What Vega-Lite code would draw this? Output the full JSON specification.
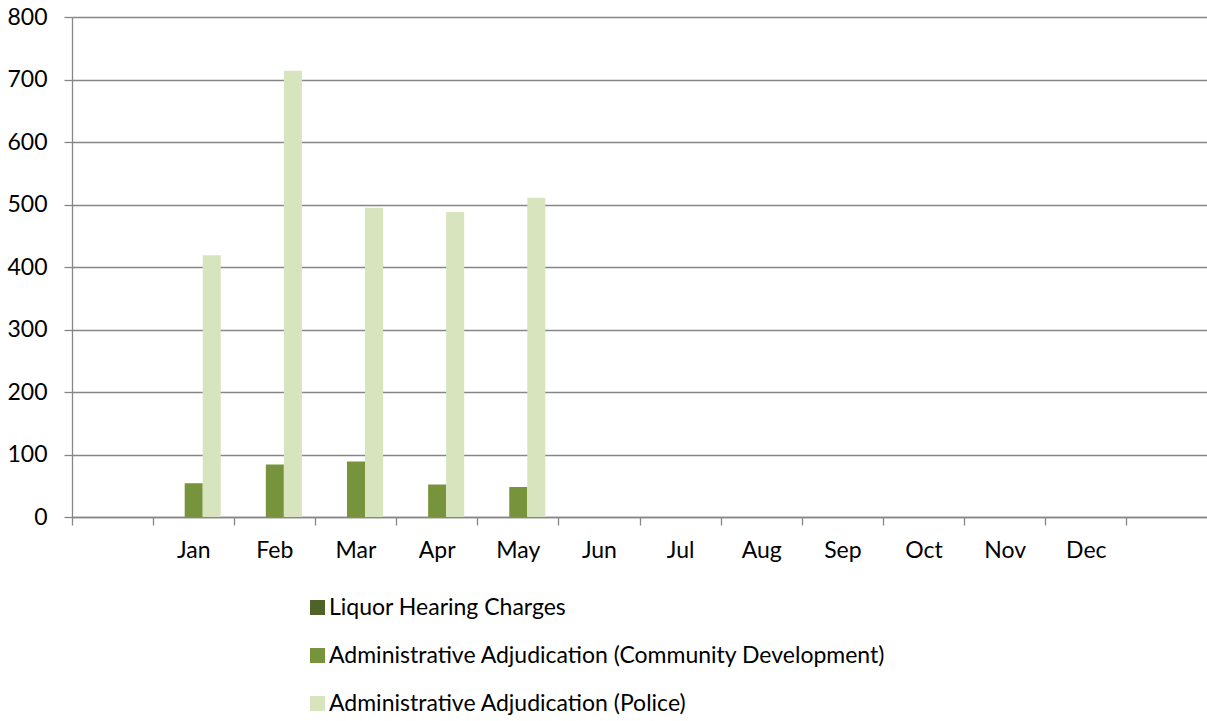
{
  "$schema": "https://vega.github.io/schema/vega-lite/v6.json",
  "width": 1136,
  "height": 500,
  "autosize": {"type": "none"},
  "padding": {"left": 72, "top": 17, "right": 0, "bottom": 204},
  "background": "white",
  "config": {"view": {"stroke": null}, "font": "Lato"},
  "data": {
    "values": [
      {"month": "Jan", "series": "Liquor Hearing Charges", "value": 0},
      {"month": "Jan", "series": "Administrative Adjudication (Community Development)", "value": 54},
      {"month": "Jan", "series": "Administrative Adjudication (Police)", "value": 419},
      {"month": "Feb", "series": "Liquor Hearing Charges", "value": 0},
      {"month": "Feb", "series": "Administrative Adjudication (Community Development)", "value": 84},
      {"month": "Feb", "series": "Administrative Adjudication (Police)", "value": 714},
      {"month": "Mar", "series": "Liquor Hearing Charges", "value": 0},
      {"month": "Mar", "series": "Administrative Adjudication (Community Development)", "value": 89},
      {"month": "Mar", "series": "Administrative Adjudication (Police)", "value": 495},
      {"month": "Apr", "series": "Liquor Hearing Charges", "value": 0},
      {"month": "Apr", "series": "Administrative Adjudication (Community Development)", "value": 52},
      {"month": "Apr", "series": "Administrative Adjudication (Police)", "value": 488},
      {"month": "May", "series": "Liquor Hearing Charges", "value": 0},
      {"month": "May", "series": "Administrative Adjudication (Community Development)", "value": 48},
      {"month": "May", "series": "Administrative Adjudication (Police)", "value": 511}
    ]
  },
  "layer": [
    {
      "mark": {"type": "bar"},
      "encoding": {
        "x": {
          "field": "month",
          "type": "nominal",
          "scale": {
            "domain": ["_s", "Jan", "Feb", "Mar", "Apr", "May", "Jun", "Jul", "Aug", "Sep", "Oct", "Nov", "Dec", "_e"],
            "paddingInner": 0,
            "paddingOuter": 0
          },
          "axis": {
            "title": null,
            "orient": "bottom",
            "labelExpr": "indexof(datum.value, '_') == 0 ? '' : datum.value",
            "labelAngle": 0,
            "domainColor": "#868686",
            "domainWidth": 1.3,
            "ticks": false,
            "labelFontSize": 23,
            "labelColor": "#000000",
            "labelPadding": 22
          }
        },
        "xOffset": {
          "field": "series",
          "type": "nominal",
          "scale": {
            "domain": ["Liquor Hearing Charges", "Administrative Adjudication (Community Development)", "Administrative Adjudication (Police)"],
            "paddingInner": 0,
            "paddingOuter": 0.75
          }
        },
        "y": {
          "field": "value",
          "type": "quantitative",
          "scale": {"domain": [0, 800], "nice": false},
          "axis": {
            "title": null,
            "values": [0, 100, 200, 300, 400, 500, 600, 700, 800],
            "grid": true,
            "gridColor": "#868686",
            "gridWidth": 1.3,
            "domainColor": "#868686",
            "domainWidth": 1.3,
            "tickColor": "#868686",
            "tickWidth": 1.3,
            "tickSize": 8,
            "labelFontSize": 23,
            "labelColor": "#000000",
            "labelPadding": 17
          }
        },
        "color": {
          "field": "series",
          "type": "nominal",
          "scale": {
            "domain": ["Liquor Hearing Charges", "Administrative Adjudication (Community Development)", "Administrative Adjudication (Police)"],
            "range": ["#4F6228", "#77933C", "#D7E4BD"]
          },
          "legend": {
            "title": null,
            "orient": "none",
            "legendX": 234,
            "legendY": 579,
            "padding": 0,
            "direction": "vertical",
            "symbolType": "square",
            "symbolSize": 225,
            "symbolStrokeWidth": 0,
            "labelFontSize": 23,
            "labelColor": "#000000",
            "labelOffset": 0,
            "labelLimit": 900,
            "rowPadding": 24
          }
        }
      }
    },
    {
      "mark": {"type": "tick", "opacity": 0},
      "encoding": {
        "x": {
          "field": "month",
          "type": "nominal",
          "axis": {
            "title": null,
            "orient": "bottom",
            "bandPosition": 0,
            "labels": false,
            "domain": false,
            "ticks": true,
            "tickColor": "#868686",
            "tickWidth": 1.3,
            "tickSize": 8
          }
        },
        "y": {"field": "value", "type": "quantitative"}
      }
    }
  ],
  "resolve": {"axis": {"x": "independent"}}
}
